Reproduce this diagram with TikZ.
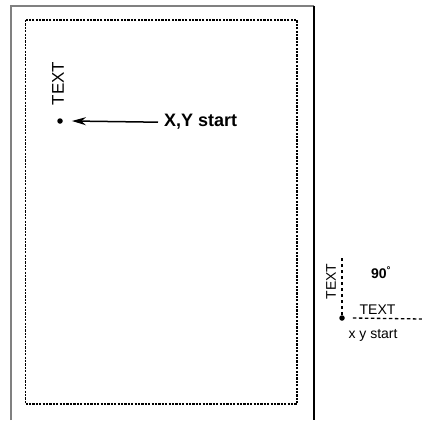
\documentclass[tikz,border=0pt]{standalone}
\usepackage{fontspec}
\setmainfont{Liberation Sans}
\usetikzlibrary{arrows.meta}
\begin{document}
\begin{tikzpicture}[x=1pt,y=-1pt,>={Stealth[length=14pt,width=8pt]}]
  \tikzstyle{startdot}=[circle, fill=black, inner sep=0pt, minimum size=5.5pt]
  \tikzstyle{margin}=[line width=1.6pt, dash pattern=on 2.2pt off 1.2pt]
  \tikzstyle{guide}=[line width=1.3pt, dash pattern=on 3.5pt off 2.5pt]
  \tikzstyle{lbl}=[inner sep=0pt, font=\fontsize{14}{16}\selectfont]

  \useasboundingbox (0,0) rectangle (422,420);

  % sheet and printable area
  \draw[gray, line width=2.2pt] (11,420) -- (11,6) -- (314,6);
  \draw[black, line width=1.2pt] (314,6) -- (314,420);
  \draw[margin] (25.5,20) rectangle (297,404);

  % start point on the sheet
  \node[startdot] (dot1) at (60,121) {};
  \node[lbl, rotate=90, font=\fontsize{17}{19}\selectfont] (vtext1) at (58,83.5) {TEXT};
  \node[anchor=base west, inner sep=0pt, font=\bfseries\fontsize{18}{20}\selectfont] (xylabel) at (164,126) {X,Y start};
  \draw[->, line width=1.5pt] ([xshift=-6pt,yshift=-1pt]xylabel.west) -- ([xshift=9pt]dot1.east);

  % rotation detail
  \node[startdot] (dot2) at (342,318) {};
  \coordinate (vend) at (342,257);
  \coordinate (hend) at (422,319);
  \draw[guide] (dot2) -- (vend);
  \draw[guide] ([xshift=8pt]dot2.east) -- (hend);
  \node[lbl, rotate=90] (vtext2) at (331,281.5) {TEXT};
  \node[lbl, font=\bfseries\fontsize{14}{16}\selectfont] (angle) at (381,273) {90\textsuperscript{°}};
  \node[lbl] (htext) at (377.5,310) {TEXT};
  \node[lbl] (xystart) at (373,335) {x y start};
\end{tikzpicture}
\end{document}
